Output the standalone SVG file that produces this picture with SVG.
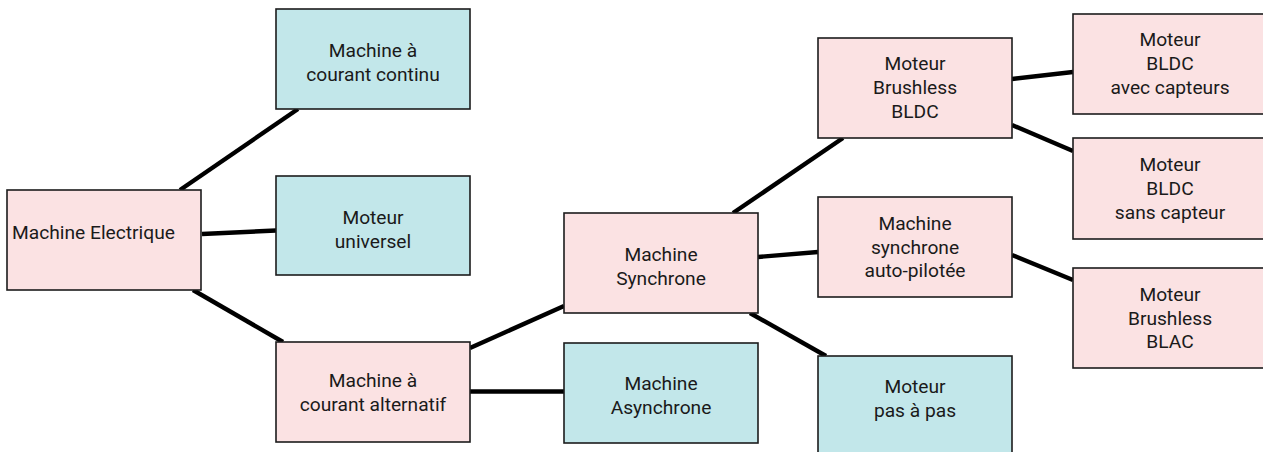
<svg xmlns="http://www.w3.org/2000/svg" width="1263" height="452" viewBox="0 0 1263 452">
  <style>
    .box { stroke: #1c1c1c; stroke-width: 1.6; }
    .pink { fill: #fbe2e3; }
    .cyan { fill: #c2e7ea; }
    .lbl { font-family: Roboto, "Liberation Sans", sans-serif; font-size: 19.2px; fill: #1a1a1a; text-anchor: middle; }
    .left { text-anchor: start; }
    .link { stroke: #000; stroke-width: 4.4; fill: none; }
  </style>
  <rect width="1263" height="452" fill="#ffffff"/>

  <!-- links between the classification boxes -->
  <g id="connectors">
    <line class="link" x1="180" y1="190" x2="298" y2="109"/>
    <line class="link" x1="202" y1="234" x2="276" y2="230.5"/>
    <line class="link" x1="193" y1="290" x2="283" y2="342"/>
    <line class="link" x1="470" y1="348" x2="564" y2="306"/>
    <line class="link" x1="470" y1="391.5" x2="564" y2="391.5"/>
    <line class="link" x1="733" y1="213" x2="843" y2="138"/>
    <line class="link" x1="758" y1="257" x2="818" y2="252"/>
    <line class="link" x1="750" y1="313" x2="826" y2="356"/>
    <line class="link" x1="1012" y1="79" x2="1073" y2="72"/>
    <line class="link" x1="1012" y1="125" x2="1073" y2="151"/>
    <line class="link" x1="1012" y1="255" x2="1073" y2="280"/>
  </g>

  <g id="machine-electrique">
    <rect class="box pink" x="7" y="190" width="194" height="100"/>
    <text class="lbl left" x="12" y="239">Machine Electrique</text>
  </g>

  <g id="courant-continu">
    <rect class="box cyan" x="276" y="9" width="194" height="100"/>
    <text class="lbl" x="373" y="57">Machine à</text>
    <text class="lbl" x="373" y="81">courant continu</text>
  </g>

  <g id="moteur-universel">
    <rect class="box cyan" x="276" y="176" width="194" height="99"/>
    <text class="lbl" x="373" y="224">Moteur</text>
    <text class="lbl" x="373" y="248">universel</text>
  </g>

  <g id="courant-alternatif">
    <rect class="box pink" x="276" y="342" width="194" height="100"/>
    <text class="lbl" x="373" y="387">Machine à</text>
    <text class="lbl" x="373" y="411">courant alternatif</text>
  </g>

  <g id="machine-synchrone">
    <rect class="box pink" x="564" y="213" width="194" height="100"/>
    <text class="lbl" x="661" y="261">Machine</text>
    <text class="lbl" x="661" y="285">Synchrone</text>
  </g>

  <g id="machine-asynchrone">
    <rect class="box cyan" x="564" y="343" width="194" height="100"/>
    <text class="lbl" x="661" y="390">Machine</text>
    <text class="lbl" x="661" y="414">Asynchrone</text>
  </g>

  <g id="moteur-bldc">
    <rect class="box pink" x="818" y="38" width="194" height="100"/>
    <text class="lbl" x="915" y="70">Moteur</text>
    <text class="lbl" x="915" y="94">Brushless</text>
    <text class="lbl" x="915" y="118">BLDC</text>
  </g>

  <g id="synchrone-autopilotee">
    <rect class="box pink" x="818" y="197" width="194" height="100"/>
    <text class="lbl" x="915" y="230">Machine</text>
    <text class="lbl" x="915" y="253.5">synchrone</text>
    <text class="lbl" x="915" y="277">auto-pilotée</text>
  </g>

  <g id="moteur-pas-a-pas">
    <rect class="box cyan" x="818" y="356" width="194" height="100"/>
    <text class="lbl" x="915" y="393">Moteur</text>
    <text class="lbl" x="915" y="417">pas à pas</text>
  </g>

  <g id="bldc-avec-capteurs">
    <rect class="box pink" x="1073" y="14" width="194" height="100"/>
    <text class="lbl" x="1170" y="46">Moteur</text>
    <text class="lbl" x="1170" y="70">BLDC</text>
    <text class="lbl" x="1170" y="94">avec capteurs</text>
  </g>

  <g id="bldc-sans-capteur">
    <rect class="box pink" x="1073" y="138" width="194" height="101"/>
    <text class="lbl" x="1170" y="171">Moteur</text>
    <text class="lbl" x="1170" y="195">BLDC</text>
    <text class="lbl" x="1170" y="219">sans capteur</text>
  </g>

  <g id="brushless-blac">
    <rect class="box pink" x="1073" y="268" width="194" height="100"/>
    <text class="lbl" x="1170" y="301">Moteur</text>
    <text class="lbl" x="1170" y="324.5">Brushless</text>
    <text class="lbl" x="1170" y="348">BLAC</text>
  </g>
</svg>
